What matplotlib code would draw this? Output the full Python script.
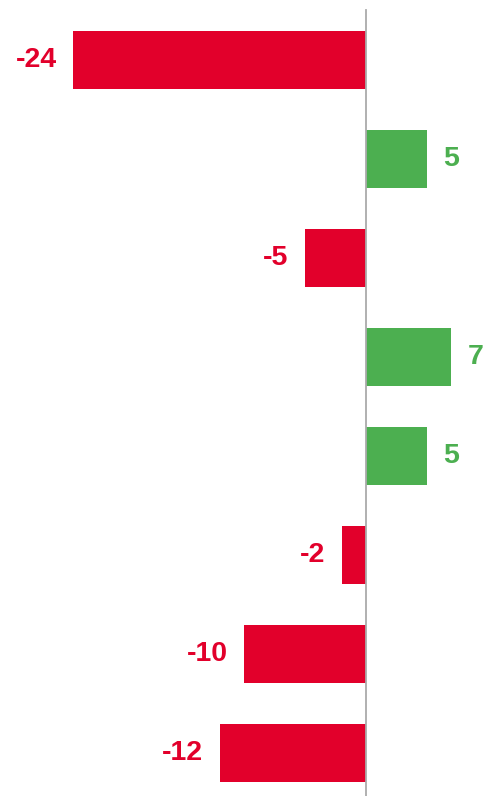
import matplotlib
matplotlib.use("Agg")
import matplotlib.pyplot as plt
import numpy as np

values = [-24, 5, -5, 7, 5, -2, -10, -12]
red = "#E2002B"
green = "#4CAF50"

fig = plt.figure(figsize=(4.95, 7.96), dpi=100)
ax = fig.add_axes([0, 0, 1, 1])

pos = np.arange(len(values))
colors = [green if v > 0 else red for v in values]
ax.barh(pos, values, height=0.585, color=colors)

# labels next to bar ends
for p, v, c in zip(pos, values, colors):
    off = 1.35 if v > 0 else -1.35
    ha = "left" if v > 0 else "right"
    ax.text(v + off, p, str(v), ha=ha, va="center", color=c,
            fontsize=20.5, fontweight="bold", family="Liberation Sans")

ax.axvline(0, ymin=0, ymax=0.987, color="#aaaaaa", lw=1.3)

ax.set_xlim(-30, 10.57)
ax.set_ylim(7.435, -0.605)
ax.axis("off")

fig.savefig("out.png", dpi=100)
